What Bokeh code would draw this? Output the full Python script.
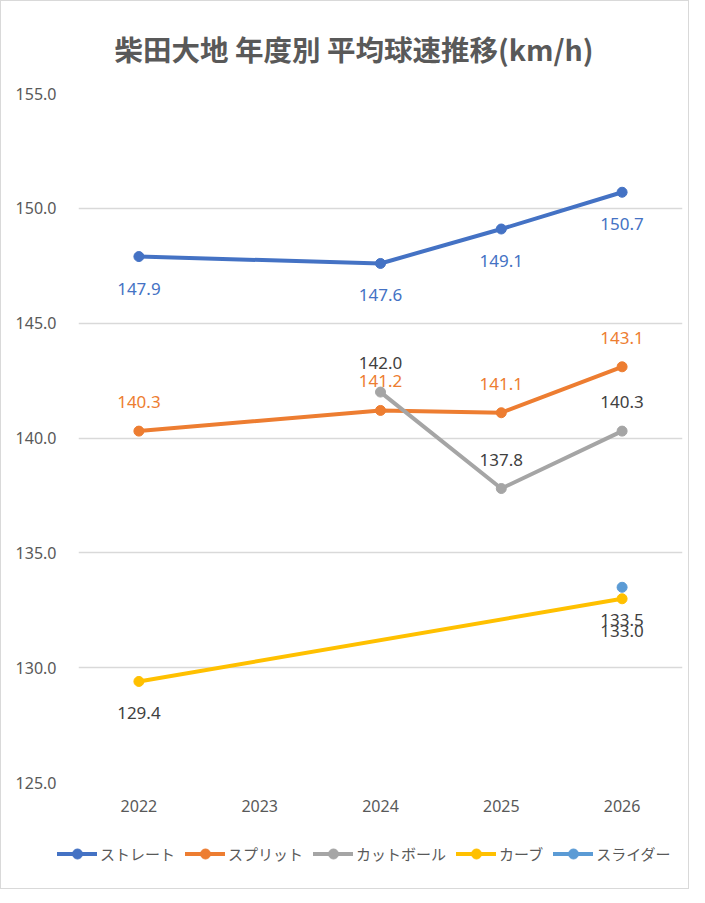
from bokeh.plotting import figure
from bokeh.layouts import column
from bokeh.models import (FactorRange, Range1d, ColumnDataSource, Legend, LegendItem,
                          SingleIntervalTicker, NumeralTickFormatter)
from bokeh.core.properties import value
from bokeh.embed import file_html
from bokeh.resources import INLINE

# ---- data ----
years = ["2022", "2023", "2024", "2025", "2026"]

straight_years = ["2022", "2024", "2025", "2026"]
straight_vals = [147.9, 147.6, 149.1, 150.7]

split_years = ["2022", "2024", "2025", "2026"]
split_vals = [140.3, 141.2, 141.1, 143.1]

cutter_years = ["2024", "2025", "2026"]
cutter_vals = [142.0, 137.8, 140.3]

curve_years = ["2022", "2026"]
curve_vals = [129.4, 133.0]

slider_years = ["2026"]
slider_vals = [133.5]

series_names = ["ストレート", "スプリット", "カットボール", "カーブ", "スライダー"]

title_text = "柴田大地 年度別 平均球速推移(km/h)"

# ---- styles ----
series = [
    (series_names[0], straight_years, straight_vals, "#4472C4", "#4472C4", 32),
    (series_names[1], split_years, split_vals, "#ED7D31", "#ED7D31", -29),
    (series_names[2], cutter_years, cutter_vals, "#A5A5A5", "#404040", -29),
    (series_names[3], curve_years, curve_vals, "#FFC000", "#404040", 32),
    (series_names[4], slider_years, slider_vals, "#5B9BD5", "#404040", 33),
]

JP = "Noto Sans CJK JP"
NUM = "Noto Sans"
W = 687

p = figure(x_range=FactorRange(*years, range_padding=0),
           y_range=Range1d(125, 155),
           width=W, height=831,
           min_border_left=77, min_border_right=6,
           min_border_top=90, min_border_bottom=50,
           output_backend="svg", toolbar_location=None,
           title=title_text)
p.frame_align = False

p.title.align = "left"
p.title.offset = 36
p.title.text_font = JP
p.title.text_font_size = "28.5px"
p.title.text_font_style = "bold"
p.title.text_color = "#595959"
p.title.standoff = 49

p.outline_line_color = None
p.background_fill_color = "white"
p.border_fill_color = "white"

p.yaxis.ticker = SingleIntervalTicker(interval=5)
p.yaxis.formatter = NumeralTickFormatter(format="0.0")
for ax in (p.xaxis[0], p.yaxis[0]):
    ax.axis_line_color = None
    ax.major_tick_line_color = None
    ax.minor_tick_line_color = None
    ax.major_label_text_font = NUM
    ax.major_label_text_font_size = "16px"
    ax.major_label_text_color = "#595959"
p.yaxis.major_label_standoff = 16
p.xaxis.major_label_standoff = 11

p.xgrid.grid_line_color = None
p.ygrid.grid_line_color = "#d9d9d9"
p.ygrid.grid_line_width = 1.3

# legend panel (separate figure below the chart)
leg = figure(width=W, height=56, x_range=Range1d(0, 1), y_range=Range1d(0, 1),
             min_border=0, min_border_left=0, min_border_right=0,
             min_border_top=0, min_border_bottom=0,
             output_backend="svg", toolbar_location=None,
             x_axis_location=None, y_axis_location=None)
leg.frame_align = False
leg.outline_line_color = None
leg.xgrid.grid_line_color = None
leg.ygrid.grid_line_color = None
leg.border_fill_color = "white"

items = []
for name, xs, ys, col, lab_col, off in series:
    src = ColumnDataSource(dict(x=xs, y=ys, t=[f"{v:.1f}" for v in ys]))
    p.line("x", "y", source=src, line_color=col, line_width=4, line_cap="round", line_join="round")
    p.scatter("x", "y", source=src, size=10, fill_color=col, line_color=col)
    p.text("x", "y", text="t", source=src, text_align="center", text_baseline="middle",
           y_offset=off, text_color=lab_col, text_font=value(NUM), text_font_size="17px")
    # proxy renderers (outside the legend panel's range) used only for legend glyphs
    proxy = ColumnDataSource(dict(x=[-5, -4], y=[-5, -5]))
    l1 = leg.line("x", "y", source=proxy, line_color=col, line_width=4, line_cap="round")
    l2 = leg.scatter("x", "y", source=proxy, size=10, fill_color=col, line_color=col)
    items.append(LegendItem(label=name, renderers=[l1, l2]))

legend = Legend(items=items, orientation="horizontal", location=(56, 22),
                label_text_font=JP, label_text_font_size="15px", label_text_color="#595959",
                glyph_width=40, glyph_height=25, label_standoff=3, spacing=10,
                border_line_color=None, background_fill_alpha=0, padding=5, margin=0)
leg.add_layout(legend, "center")

layout = column(p, leg, spacing=0, styles={"border": "1px solid #d9d9d9"})

open("out.html", "w").write(file_html(layout, INLINE))
